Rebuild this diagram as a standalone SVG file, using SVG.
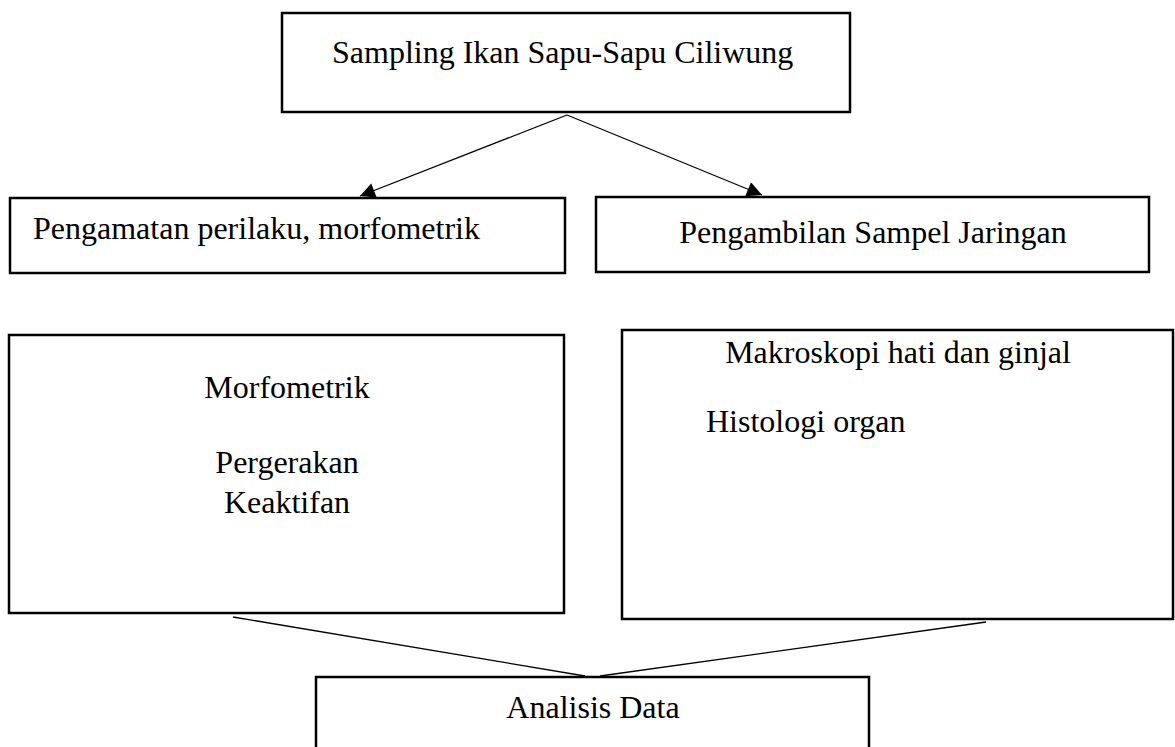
<svg xmlns="http://www.w3.org/2000/svg" width="1175" height="747" viewBox="0 0 1175 747">
<style>
.box{fill:#fff;stroke:#000;stroke-width:2.5}
.t{font-family:"Liberation Serif","Times New Roman",serif;font-size:32px;fill:#000}
.c{text-anchor:middle}
.ln{stroke:#000;stroke-width:1.3;fill:none}
</style>
<defs>
<marker id="ah" viewBox="0 0 10 10" refX="10" refY="5" markerWidth="17" markerHeight="15" markerUnits="userSpaceOnUse" orient="auto">
<path d="M0,0 L10,5 L0,10 Z" fill="#000"/>
</marker>
</defs>
<rect width="1175" height="747" fill="#fff"/>
<g id="connectors">
<line class="ln" x1="567" y1="115" x2="360" y2="196" marker-end="url(#ah)"/>
<line class="ln" x1="567" y1="115" x2="762" y2="195" marker-end="url(#ah)"/>
<line class="ln" x1="233" y1="617" x2="585" y2="676"/>
<line class="ln" x1="986" y1="622" x2="600" y2="676"/>
</g>
<g id="n-sampling">
<rect class="box" x="282" y="13" width="568" height="99"/>
<text class="t" x="332" y="63">Sampling Ikan Sapu-Sapu Ciliwung</text>
</g>
<g id="n-pengamatan">
<rect class="box" x="10" y="198" width="555" height="75"/>
<text class="t" x="33" y="239">Pengamatan perilaku, morfometrik</text>
</g>
<g id="n-pengambilan">
<rect class="box" x="596" y="197" width="553" height="75"/>
<text class="t c" x="873" y="243">Pengambilan Sampel Jaringan</text>
</g>
<g id="n-morfometrik">
<rect class="box" x="9" y="335" width="555" height="278"/>
<text class="t c" x="287" y="398">Morfometrik</text>
<text class="t c" x="287" y="473">Pergerakan</text>
<text class="t c" x="287" y="513">Keaktifan</text>
</g>
<g id="n-makroskopi">
<rect class="box" x="622" y="330" width="551" height="289"/>
<text class="t c" x="898" y="363">Makroskopi hati dan ginjal</text>
<text class="t" x="706" y="432">Histologi organ</text>
</g>
<g id="n-analisis">
<rect class="box" x="316" y="677" width="553" height="90"/>
<text class="t c" x="593" y="718">Analisis Data</text>
</g>
</svg>
